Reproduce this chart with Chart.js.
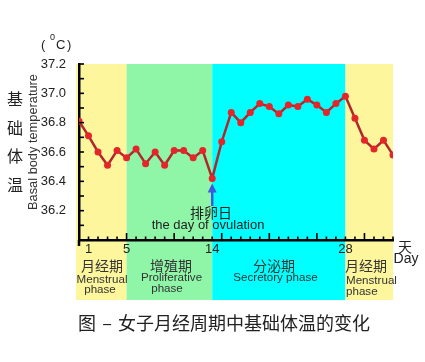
<!DOCTYPE html>
<html>
<head>
<meta charset="utf-8">
<script src="https://cdn.jsdelivr.net/npm/chart.js@4.4.1/dist/chart.umd.min.js"></script>
<style>
  html, body { margin: 0; padding: 0; background: #fff; }
  #wrap { width: 425px; height: 362px; position: relative; }
</style>
</head>
<body>
<div id="wrap"><canvas id="bbt"></canvas></div>
<script>
// 周期中的天数与基础体温 (°C)
const days = [0, 1, 2, 3, 4, 5, 6, 7, 8, 9, 10, 11, 12, 13, 14, 15, 16,
              17, 18, 19, 20, 21, 22, 23, 24, 25, 26, 27, 28, 29, 30, 31, 32, 33];
const temps = [36.81, 36.71, 36.60, 36.51, 36.61, 36.56, 36.62, 36.52, 36.60, 36.51,
               36.61, 36.61, 36.56, 36.61, 36.42, 36.67, 36.87, 36.80, 36.87, 36.93,
               36.91, 36.86, 36.92, 36.91, 36.96, 36.92, 36.87, 36.93, 36.98, 36.83,
               36.68, 36.62, 36.68, 36.58];
const tickDays = [1, 5, 14, 28];
const ovulationDay = 14;

// 各阶段：起止日、颜色
const phaseStart = [0, 5, 14, 28];
const phaseEnd   = [5, 14, 28, 33];
const phaseColor = ['#fdf69c', '#8ff6a8', '#00ffff', '#fdf69c'];

const SANS = '"Liberation Sans", Arial, sans-serif';
const CJK = '"Noto Sans CJK SC", sans-serif';

const decorPlugin = {
  id: 'decor',
  beforeDraw(chart) {
    const { ctx, chartArea } = chart;
    const x = chart.scales.x;
    ctx.save();
    ctx.fillStyle = '#fff';
    ctx.fillRect(0, 0, chart.width, chart.height);
    phaseStart.forEach((s, i) => {
      let x0 = x.getPixelForValue(s);
      const x1 = x.getPixelForValue(phaseEnd[i]);
      if (i === 0) x0 -= 3;
      ctx.fillStyle = phaseColor[i];
      ctx.fillRect(x0, chartArea.top, x1 - x0, 300 - chartArea.top);
    });
    ctx.restore();
  },
  afterDraw(chart) {
    const { ctx, chartArea } = chart;
    const x = chart.scales.x, y = chart.scales.y;
    ctx.save();
    ctx.strokeStyle = '#000';
    ctx.lineWidth = 1.6;
    // y 轴刻度（向内）
    for (let i = 1; i <= 12; i++) {
      const py = y.getPixelForValue(36 + i * 0.1);
      ctx.beginPath();
      ctx.moveTo(chartArea.left, py);
      ctx.lineTo(chartArea.left + 5, py);
      ctx.stroke();
    }
    // y 轴向下延伸一点
    ctx.lineWidth = 2.5;
    ctx.beginPath();
    ctx.moveTo(chartArea.left, chartArea.bottom);
    ctx.lineTo(chartArea.left, chartArea.bottom + 6);
    ctx.stroke();
    // x 轴刻度（向上）
    ctx.lineWidth = 1.6;
    for (let d = 1; d <= 33; d++) {
      const px = x.getPixelForValue(d);
      const len = d % 5 === 0 ? 7 : 3.5;
      ctx.beginPath();
      ctx.moveTo(px, chartArea.bottom);
      ctx.lineTo(px, chartArea.bottom - len);
      ctx.stroke();
    }

    // 排卵日箭头
    const ax = x.getPixelForValue(ovulationDay);
    const tip = y.getPixelForValue(temps[ovulationDay]) + 5;
    ctx.strokeStyle = '#3b5bdb';
    ctx.fillStyle = '#3b5bdb';
    ctx.lineWidth = 2.5;
    ctx.beginPath();
    ctx.moveTo(ax, tip + 6);
    ctx.lineTo(ax, 206);
    ctx.stroke();
    ctx.beginPath();
    ctx.moveTo(ax, tip);
    ctx.lineTo(ax - 4.5, tip + 9);
    ctx.lineTo(ax + 4.5, tip + 9);
    ctx.closePath();
    ctx.fill();

    ctx.fillStyle = '#222';
    ctx.textBaseline = 'middle';
    ctx.textAlign = 'center';
    ctx.font = '14px ' + CJK;
    ctx.fillText('排卵日', 211, 213);
    ctx.font = '13px ' + SANS;
    ctx.fillText('the day of ovulation', 208, 225.5);

    // 单位
    ctx.textAlign = 'left';
    ctx.font = '13px ' + SANS;
    ctx.fillText('(', 41, 45);
    ctx.fillText('C', 56, 45);
    ctx.fillText(')', 67, 45);
    ctx.font = '9px ' + SANS;
    ctx.fillText('0', 50, 38);

    // 纵轴标题
    ctx.font = '16px ' + CJK;
    ctx.textAlign = 'center';
    ['基', '础', '体', '温'].forEach((c, i) => ctx.fillText(c, 15, 99 + i * 28.5));
    ctx.save();
    ctx.translate(33, 142);
    ctx.rotate(-Math.PI / 2);
    ctx.font = '12.8px ' + SANS;
    ctx.fillStyle = '#333';
    ctx.fillText('Basal body temperature', 0, 0);
    ctx.restore();

    // 单位：天
    ctx.font = '14px ' + CJK;
    ctx.fillText('天', 405, 247);
    ctx.font = '14px ' + SANS;
    ctx.fillText('Day', 406, 259);

    // 阶段标签
    ctx.fillStyle = '#333';
    ctx.font = '14px ' + CJK;
    ctx.fillText('月经期', 102, 266);
    ctx.fillText('增殖期', 171, 266);
    ctx.fillText('分泌期', 274, 266);
    ctx.fillText('月经期', 366, 266);
    ctx.font = '11.6px ' + SANS;
    ctx.fillText('Menstrual', 102, 279.5);
    ctx.fillText('phase', 100, 290);
    ctx.fillText('Proliferative', 171.5, 278);
    ctx.fillText('phase', 167, 289);
    ctx.fillText('Secretory phase', 275.5, 278);
    ctx.textAlign = 'left';
    ctx.fillText('Menstrual', 346, 281);
    ctx.fillText('phase', 346, 291.5);

    // 图题
    ctx.fillStyle = '#222';
    ctx.font = '18px ' + CJK;
    ctx.fillText('图', 78, 323);
    ctx.textAlign = 'center';
    ctx.fillText('–', 107, 323);
    ctx.textAlign = 'left';
    ctx.fillText('女子月经周期中基础体温的变化', 118, 323);
    ctx.restore();
  }
};

new Chart(document.getElementById('bbt'), {
  type: 'line',
  data: {
    datasets: [{
      data: days.map((d, i) => ({ x: d, y: temps[i] })),
      borderColor: '#b0282c',
      borderWidth: 2.5,
      pointRadius: 3.5,
      pointBackgroundColor: '#e4262b',
      pointBorderWidth: 0,
      tension: 0
    }]
  },
  options: {
    responsive: true,
    maintainAspectRatio: false,
    animation: false,
    events: [],
    layout: { padding: { top: 64, right: 32, bottom: 102, left: 0 } },
    plugins: { legend: { display: false }, tooltip: { enabled: false } },
    scales: {
      x: {
        type: 'linear',
        min: 0,
        max: 33,
        afterFit: s => { s.height = 20; },
        afterBuildTicks: s => { s.ticks = tickDays.map(v => ({ value: v })); },
        grid: { display: false, drawTicks: false },
        border: { display: true, color: '#000', width: 2.5 },
        ticks: {
          padding: 2,
          maxRotation: 0,
          autoSkip: false,
          color: '#222',
          font: { family: SANS, size: 13 }
        }
      },
      y: {
        min: 36,
        max: 37.2,
        afterFit: s => { s.width = 79; },
        grid: { display: false, drawTicks: false },
        border: { display: true, color: '#000', width: 2.5 },
        ticks: {
          stepSize: 0.2,
          padding: 13,
          color: '#222',
          font: { family: SANS, size: 13 },
          callback: v => (v < 36.05 ? '' : v.toFixed(1))
        }
      }
    }
  },
  plugins: [decorPlugin]
});
</script>
</body>
</html>
